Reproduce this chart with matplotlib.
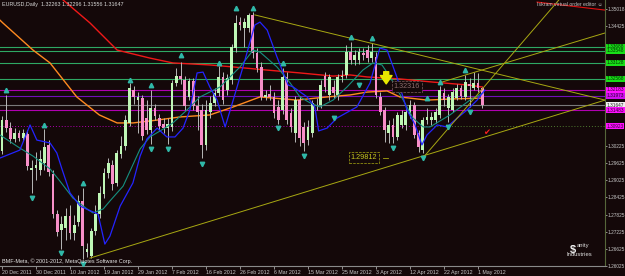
import matplotlib
matplotlib.use('Agg')
import matplotlib.pyplot as plt
from matplotlib.transforms import blended_transform_factory

plt.rcParams['font.family'] = ['Liberation Sans', 'DejaVu Sans']

# --- daily EURUSD candles, 20 Dec 2011 .. 2 May 2012 (one bar per trading day) ---
opens = [1.3005, 1.3113, 1.3085, 1.3047, 1.3068, 1.3050, 1.3064, 1.2938, 1.2945, 1.2938,
         1.2963, 1.3026, 1.2924, 1.2784, 1.2728, 1.2735, 1.2777, 1.2718, 1.2756, 1.2830,
         1.2651, 1.2637, 1.2725, 1.2784, 1.2854, 1.2928, 1.2956, 1.2893, 1.2994, 1.3022,
         1.3103, 1.3218, 1.3183, 1.3190, 1.3120, 1.3078, 1.3155, 1.3120, 1.3099, 1.3085,
         1.3089, 1.3243, 1.3267, 1.3253, 1.3194, 1.3250, 1.3162, 1.3148, 1.3026, 1.3141,
         1.3173, 1.3208, 1.3264, 1.3218, 1.3253, 1.3365, 1.3456, 1.3435, 1.3435, 1.3481,
         1.3348, 1.3299, 1.3194, 1.3204, 1.3194, 1.3159, 1.3148, 1.3264, 1.3138, 1.3068,
         1.3183, 1.3089, 1.3043, 1.3068, 1.3166, 1.3166, 1.3267, 1.3201, 1.3229, 1.3201,
         1.3264, 1.3271, 1.3351, 1.3323, 1.3323, 1.3348, 1.3358, 1.3330, 1.3334, 1.3194,
         1.3148, 1.3068, 1.3096, 1.3054, 1.3096, 1.3096, 1.3131, 1.3166, 1.3068, 1.3008,
         1.3113, 1.3113, 1.3113, 1.3131, 1.3208, 1.3155, 1.3148, 1.3190, 1.3225, 1.3194,
         1.3239, 1.3225, 1.3243, 1.32263]
highs = [1.3127, 1.3201, 1.3106, 1.3085, 1.3078, 1.3082, 1.3078, 1.2973, 1.3001, 1.3008,
         1.3082, 1.3043, 1.2938, 1.2798, 1.2777, 1.2805, 1.2816, 1.2781, 1.2851, 1.2875,
         1.2683, 1.2735, 1.2816, 1.2882, 1.2945, 1.2980, 1.2973, 1.3008, 1.3057, 1.3131,
         1.3243, 1.3232, 1.3211, 1.3201, 1.3183, 1.3218, 1.3169, 1.3134, 1.3120, 1.3120,
         1.3253, 1.3295, 1.3316, 1.3267, 1.3260, 1.3260, 1.3197, 1.3169, 1.3183, 1.3197,
         1.3225, 1.3302, 1.3281, 1.3274, 1.3379, 1.3481, 1.3474, 1.3470, 1.3488, 1.3491,
         1.3365, 1.3316, 1.3218, 1.3236, 1.3211, 1.3183, 1.3295, 1.3281, 1.3155, 1.3197,
         1.3197, 1.3106, 1.3113, 1.3183, 1.3190, 1.3253, 1.3281, 1.3274, 1.3253, 1.3274,
         1.3288, 1.3376, 1.3386, 1.3358, 1.3365, 1.3365, 1.3376, 1.3383, 1.3351, 1.3211,
         1.3159, 1.3113, 1.3120, 1.3141, 1.3148, 1.3155, 1.3183, 1.3176, 1.3078, 1.3124,
         1.3155, 1.3141, 1.3155, 1.3232, 1.3225, 1.3204, 1.3225, 1.3239, 1.3236, 1.3271,
         1.3260, 1.3281, 1.3278, 1.32296]
lows = [1.2994, 1.3071, 1.3033, 1.3036, 1.3040, 1.3040, 1.2938, 1.2858, 1.2903, 1.2921,
        1.2938, 1.2917, 1.2770, 1.2707, 1.2662, 1.2693, 1.2697, 1.2693, 1.2742, 1.2627,
        1.2634, 1.2630, 1.2711, 1.2770, 1.2840, 1.2910, 1.2868, 1.2882, 1.2980, 1.3008,
        1.3092, 1.3169, 1.3068, 1.3043, 1.3064, 1.3029, 1.3113, 1.3075, 1.3068, 1.3029,
        1.3075, 1.3232, 1.3239, 1.3148, 1.3183, 1.3148, 1.3078, 1.2980, 1.3008, 1.3120,
        1.3162, 1.3197, 1.3169, 1.3201, 1.3239, 1.3351, 1.3428, 1.3369, 1.3421, 1.3330,
        1.3281, 1.3183, 1.3183, 1.3183, 1.3120, 1.3099, 1.3134, 1.3099, 1.3071, 1.3036,
        1.3022, 1.3005, 1.3026, 1.3054, 1.3148, 1.3155, 1.3211, 1.3183, 1.3190, 1.3183,
        1.3246, 1.3260, 1.3309, 1.3306, 1.3309, 1.3323, 1.3316, 1.3316, 1.3190, 1.3131,
        1.3036, 1.3033, 1.3033, 1.3043, 1.3085, 1.3078, 1.3120, 1.3050, 1.3001, 1.2998,
        1.3099, 1.3096, 1.3103, 1.3120, 1.3162, 1.3106, 1.3141, 1.3183, 1.3187, 1.3183,
        1.3159, 1.3218, 1.3211, 1.31556]
closes = [1.3113, 1.3085, 1.3047, 1.3068, 1.3050, 1.3068, 1.2952, 1.2945, 1.2956, 1.2977,
          1.3019, 1.2931, 1.2784, 1.2721, 1.2749, 1.2777, 1.2718, 1.2746, 1.2830, 1.2672,
          1.2662, 1.2725, 1.2784, 1.2858, 1.2928, 1.2963, 1.2889, 1.2998, 1.3022, 1.3113,
          1.3225, 1.3194, 1.3194, 1.3057, 1.3078, 1.3155, 1.3127, 1.3092, 1.3085, 1.3099,
          1.3243, 1.3267, 1.3257, 1.3162, 1.3250, 1.3162, 1.3141, 1.3026, 1.3148, 1.3173,
          1.3208, 1.3264, 1.3183, 1.3260, 1.3369, 1.3453, 1.3446, 1.3456, 1.3481, 1.3348,
          1.3295, 1.3194, 1.3201, 1.3194, 1.3138, 1.3113, 1.3264, 1.3113, 1.3089, 1.3183,
          1.3050, 1.3033, 1.3089, 1.3173, 1.3167, 1.3236, 1.3229, 1.3264, 1.3208, 1.3264,
          1.3267, 1.3351, 1.3323, 1.3341, 1.3351, 1.3341, 1.3330, 1.3351, 1.3201, 1.3141,
          1.3078, 1.3096, 1.3054, 1.3131, 1.3131, 1.3141, 1.3166, 1.3061, 1.3019, 1.3113,
          1.3124, 1.3124, 1.3141, 1.3218, 1.3183, 1.3194, 1.3211, 1.3225, 1.3197, 1.3246,
          1.3232, 1.3243, 1.3225, 1.31647]

date_labels = ['20 Dec 2011', '30 Dec 2011', '10 Jan 2012', '19 Jan 2012', '29 Jan 2012',
               '7 Feb 2012', '16 Feb 2012', '26 Feb 2012', '6 Mar 2012', '15 Mar 2012',
               '25 Mar 2012', '3 Apr 2012', '12 Apr 2012', '22 Apr 2012', '1 May 2012']
price_ticks = [1.35018, 1.34425, 1.30225, 1.29625, 1.29025, 1.28425,
               1.27825, 1.27225, 1.26625, 1.26025]

# moving averages (bar, price)
red_ma_x = [12.5, 14.4, 20.7, 27.1, 34.8, 40.2, 48.9, 54.4, 62.4, 70.1, 77.9, 81.9, 85.9, 93.6, 101.4, 109.4, 113]
red_ma_y = [1.3561, 1.3533, 1.3453, 1.3358, 1.3330, 1.3313, 1.3306, 1.3299, 1.3288, 1.3278,
            1.3267, 1.3271, 1.3264, 1.3257, 1.3246, 1.3236, 1.3229]
orange_ma_x = [-0.5, 0.2, 7.3, 11.3, 17.6, 22.9, 27.1, 30.8, 36.5, 41.9, 48.9, 54.4, 60.7,
               69.4, 76.5, 81.9, 85.9, 90.6, 93.6, 100, 106, 113]
orange_ma_y = [1.3463, 1.3453, 1.3358, 1.3313, 1.3194, 1.3131, 1.3103, 1.3103, 1.3113, 1.3124,
               1.3131, 1.3159, 1.3194, 1.3183, 1.3194, 1.3201, 1.3211, 1.3215, 1.3194, 1.3183,
               1.3187, 1.3190]
blue_ma_x = [-0.5, 4.2, 6.6, 8.2, 11.3, 12.9, 14.1, 16, 18.4, 19.8, 22.6, 24.2, 25.4, 27.8,
             30.8, 32.5, 34.1, 36.5, 38.8, 40.7, 42.6, 44.2, 45.9, 47.3, 48.9, 50.6, 52.5,
             54.4, 56.7, 59.5, 60.7, 62.4, 64.7, 67.3, 68.5, 71.8, 73.6, 74.5, 76.5, 78.8,
             83.5, 86.6, 88.9, 90.6, 92.9, 95.3, 97.2, 98.8, 100, 102.4, 104.7, 107.1, 109.4,
             111.8, 113.6]
blue_ma_y = [1.2980, 1.3008, 1.3096, 1.3043, 1.3033, 1.2998, 1.2942, 1.2858, 1.2812, 1.2802,
             1.2784, 1.2679, 1.2707, 1.2812, 1.2893, 1.2987, 1.3047, 1.3085, 1.3054, 1.3054,
             1.3085, 1.3148, 1.3278, 1.3281, 1.3229, 1.3183, 1.3089, 1.3183, 1.3299, 1.3446,
             1.3456, 1.3428, 1.3334, 1.3236, 1.3229, 1.3194, 1.3159, 1.3075, 1.3085, 1.3120,
             1.3159, 1.3243, 1.3365, 1.3358, 1.3264, 1.3148, 1.3096, 1.3026, 1.3061, 1.3096,
             1.3089, 1.3120, 1.3148, 1.3183, 1.3218]
teal_ma_x = [-0.5, 4.2, 7.3, 11.3, 13.6, 16.7, 20, 21.4, 23.8, 25.4, 28.5, 32.5, 34.8, 37.2,
             40.2, 43.5, 46.6, 51.3, 56, 59.1, 60.7, 64.7, 67.8, 70.1, 72.5, 74.8, 77.9,
             81.2, 84.9, 87.3, 89.4, 91.3, 94.4, 96.7, 99.1, 100.7, 105.4, 110.1, 113.2]
teal_ma_y = [1.3061, 1.3015, 1.2987, 1.2942, 1.2900, 1.2840, 1.2802, 1.2788, 1.2802, 1.2830,
             1.2882, 1.3012, 1.3054, 1.3075, 1.3103, 1.3148, 1.3194, 1.3229, 1.3299, 1.3358,
             1.3351, 1.3299, 1.3243, 1.3194, 1.3173, 1.3159, 1.3183, 1.3229, 1.3288, 1.3313,
             1.3306, 1.3264, 1.3183, 1.3120, 1.3089, 1.3089, 1.3131, 1.3183, 1.3208]

# fractal arrows
frac_up_x = [1, 10, 19, 30, 35, 42, 51, 55, 59, 66, 82, 87, 100, 103, 109]
frac_up_y = [1.3218, 1.3096, 1.2893, 1.3253, 1.3236, 1.3341, 1.3313, 1.3505, 1.3505, 1.3313,
             1.3404, 1.3400, 1.3190, 1.3246, 1.3288]
frac_dn_x = [7, 14, 19, 35, 39, 47, 65, 71, 78, 84, 92, 99, 105, 110]
frac_dn_y = [1.2840, 1.2648, 1.2609, 1.3012, 1.3012, 1.2959, 1.3085, 1.2987, 1.3120, 1.3236,
             1.3015, 1.2980, 1.3089, 1.3141]

# horizontal levels
green_levels = [1.33688, 1.33548, 1.33128, 1.32568]
magenta_levels = [1.32183, 1.31483]
purple_level = 1.31973
dotted_level = 1.30923
bid = 1.31647

# trend lines: (x0, y0, x1, y1) in bar / price
trend_lines = [
    (59.5, 1.3481, 141.9, 1.3183),   # falling from Feb top
    (20.7, 1.2630, 141.9, 1.3183),   # rising from Jan low
    (103.5, 1.3246, 141.9, 1.3418),  # channel line
    (99, 1.2980, 131.0, 1.3533),     # steep line from Apr low
]

BG = '#140809'
fig = plt.figure(figsize=(6.25, 2.76), dpi=100)
fig.patch.set_facecolor(BG)
ax = fig.add_axes([0, 10 / 276, 605 / 625, 266 / 276])
ax.set_facecolor(BG)
ax.set_xlim(-0.47, 141.88)
ax.set_ylim(1.26023, 1.35333)

# horizontal lines
for lv in green_levels:
    ax.axhline(lv, color='#2ea864', lw=0.8, zorder=1)
for lv in magenta_levels:
    ax.axhline(lv, color='#b000b0', lw=0.8, zorder=1)
ax.axhline(purple_level, color='#7010b8', lw=0.8, zorder=1)
ax.plot([-0.5, 101], [dotted_level] * 2, color='#b000b0', lw=0.7, ls=(0, (1, 2)), zorder=1)
ax.plot([101, 142], [dotted_level] * 2, color='#4f7a30', lw=0.7, ls=(0, (1, 2)), zorder=1)
ax.axhline(bid, color='#7a7a7a', lw=0.8, zorder=1)

# moving averages
ax.plot(red_ma_x, red_ma_y, color='#f01818', lw=1.0, zorder=2)
ax.plot(orange_ma_x, orange_ma_y, color='#ff8a20', lw=1.0, zorder=2)

# candles
n = len(opens)
xs = list(range(n))
up = [c >= o for o, c in zip(opens, closes)]
ax.vlines(xs, lows, highs, color='#b8b8b8', lw=0.7, zorder=3)
bottoms = [min(o, c) for o, c in zip(opens, closes)]
heights = [max(abs(c - o), 0.00008) for o, c in zip(opens, closes)]
colors = ['#bff7b6' if u else '#f78fc8' for u in up]
ax.bar(xs, heights, bottom=bottoms, width=0.68, color=colors, lw=0, zorder=4)

ax.plot(teal_ma_x, teal_ma_y, color='#169080', lw=0.8, zorder=5)
ax.plot(blue_ma_x, blue_ma_y, color='#2424ff', lw=0.9, zorder=5)

for x0, y0, x1, y1 in trend_lines:
    ax.plot([x0, x1], [y0, y1], color='#a8a812', lw=0.7, zorder=5)
ax.plot([125.9, 141.9], [1.3526, 1.3498], color='#e01010', lw=0.8, zorder=5)

ax.plot(frac_up_x, frac_up_y, ls='none', marker='^', ms=3.2, color='#30b8a8', zorder=6)
ax.plot(frac_dn_x, frac_dn_y, ls='none', marker='v', ms=3.2, color='#30b8a8', zorder=6)

# arrows and price labels drawn on the chart
ax.annotate('', xy=(90.4, 1.3230), xytext=(90.4, 1.3292),
            arrowprops=dict(arrowstyle='simple,head_width=1.4,head_length=1.0,tail_width=0.6',
                            color='#e8e800', mutation_scale=6), zorder=7)
ax.text(114.1, 1.3068, '\u2714', color='#ff2020', fontsize=6, ha='center', va='center',
        family='DejaVu Sans', zorder=7)
ax.text(85.2, 1.29812, '1.29812', color='#c8c820', fontsize=5.2, ha='center', va='center',
        bbox=dict(boxstyle='square,pad=0.25', fc=BG, ec='#a8a812', ls='--', lw=0.5), zorder=7)
ax.plot([89.6, 90.8], [1.29812, 1.29812], color='#a8a812', lw=0.6, zorder=7)
ax.text(95.3, 1.32316, '1.32316', color='#8c6c6c', fontsize=5.2, ha='center', va='center',
        bbox=dict(boxstyle='square,pad=0.25', fc=BG, ec='#806060', ls='--', lw=0.5), zorder=7)

# texts
ax.text(0.004, 0.992, 'EURUSD,Daily  1.32263 1.32296 1.31556 1.31647', transform=ax.transAxes,
        ha='left', va='top', fontsize=3.9, color='#d8d8d8', zorder=8)
ax.text(0.888, 0.992, 'Iskram virtual order editor \u263a', transform=ax.transAxes,
        ha='left', va='top', fontsize=3.7, color='#c0c0c0', zorder=8)
ax.text(0.004, 0.008, 'BMF-Meta, \u00a9 2001-2012, MetaQuotes Software Corp.', transform=ax.transAxes,
        ha='left', va='bottom', fontsize=3.9, color='#e8e8e8', zorder=8)
ax.text(0.947, 0.062, '$', transform=ax.transAxes, ha='center', va='center',
        fontsize=8, fontweight='bold', color='#f0f0f0', zorder=8)
ax.text(0.953, 0.078, 'anity', transform=ax.transAxes, ha='left', va='center',
        fontsize=4.2, color='#e0e0e0', zorder=8)
ax.text(0.957, 0.045, 'Industries', transform=ax.transAxes, ha='center', va='center',
        fontsize=4.2, color='#e0e0e0', zorder=8)

# axes styling
for s in ['top', 'left']:
    ax.spines[s].set_visible(False)
ax.spines['right'].set_color('#56663a')
ax.spines['bottom'].set_color('#8a8a8a')
ax.spines['right'].set_linewidth(0.8)
ax.spines['bottom'].set_linewidth(0.8)

ax.set_xticks(list(range(0, 8 * len(date_labels), 8)))
ax.set_xticklabels(date_labels, ha='left')
ax.tick_params(axis='x', colors='#c8c8c8', labelsize=3.8, length=2, width=0.5, pad=1)

ax.yaxis.tick_right()
ax.set_yticks(price_ticks)
ax.set_yticklabels([f'{p:.5f}' for p in price_ticks])
ax.tick_params(axis='y', colors='#c8c8c8', labelsize=3.4, length=1.5, width=0.5, pad=0.5)

# coloured price tags on the right scale
tr = blended_transform_factory(ax.transAxes, ax.transData)
tags = [(lv, '#18e018', '#003000') for lv in green_levels]
tags += [(magenta_levels[0], '#ff10ff', '#300030'), (purple_level, '#d010f0', '#300030'),
         (bid, '#f0f0f0', '#202020'), (magenta_levels[1], '#ff10ff', '#300030'),
         (dotted_level, '#ff10ff', '#300030')]
for lv, fc, tc in tags:
    ax.text(1.003, lv, f'{lv:.5f}', transform=tr, ha='left', va='center', fontsize=3.4,
            color=tc, clip_on=False, zorder=9,
            bbox=dict(boxstyle='square,pad=0.1', fc=fc, ec='none'))

fig.savefig('out.png', dpi=100, facecolor=BG)
